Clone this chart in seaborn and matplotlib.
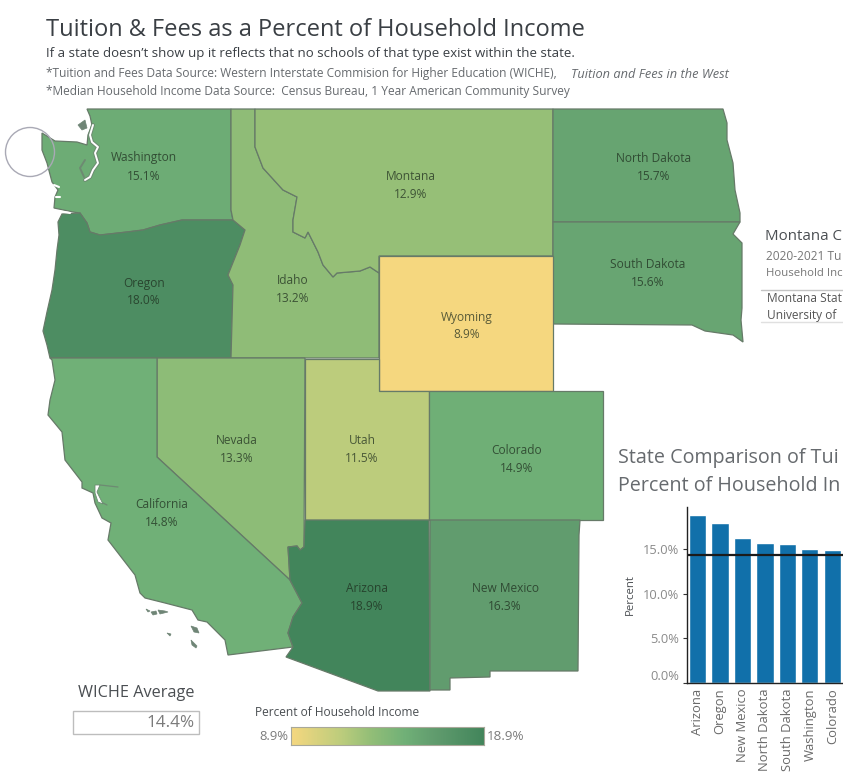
import numpy as np
import pandas as pd
import matplotlib
matplotlib.use("Agg")
import matplotlib.pyplot as plt
import seaborn as sns
from matplotlib.colors import LinearSegmentedColormap, Normalize
from matplotlib.patches import Circle, Polygon, Rectangle

# Map values
states = ["Washington", "Oregon", "Idaho", "Montana", "North Dakota", "South Dakota", "Wyoming",
          "Nevada", "Utah", "Colorado", "California", "Arizona", "New Mexico"]
pct = [15.1, 18.0, 13.2, 12.9, 15.7, 15.6, 8.9, 13.3, 11.5, 14.9, 14.8, 18.9, 16.3]
label_x = [144, 144, 293, 411, 654, 648, 467, 237, 362, 517, 162, 367, 505]
label_y = [158, 283, 280, 176, 158, 265, 317, 441, 441, 450, 504, 589, 589]

# Bar chart values (the rest runs off the picture)
bar_states = ["Arizona", "Oregon", "New Mexico", "North Dakota", "South Dakota", "Washington", "Colorado"]
bar_pct = [18.9, 18.0, 16.3, 15.7, 15.6, 15.1, 14.9]
bar_ticks = [0, 5, 10, 15]
wiche_avg = 14.4

# State outlines, traced in picture pixels
WASHINGTON = [(87, 109), (231, 109), (231, 210), (233, 220), (182, 220), (160, 225), (143, 230), (127, 232),
              (100, 235), (90, 232), (87, 223), (80, 213), (73, 212), (54, 208), (55, 197), (58, 190), (52, 182),
              (47, 163), (42, 150), (42, 133), (55, 141), (77, 142), (87, 145), (88, 135), (92, 125), (90, 116)]
OREGON = [(58, 222), (62, 214), (80, 213), (87, 223), (90, 232), (100, 235), (127, 232), (143, 230), (160, 225),
          (182, 220), (233, 220), (245, 230), (240, 245), (228, 275), (233, 285), (231, 358), (50, 358), (47, 345),
          (43, 331), (47, 312), (52, 290), (55, 270), (57, 250), (59, 235)]
IDAHO = [(231, 109), (255, 109), (255, 147), (263, 168), (283, 190), (297, 197), (293, 220), (293, 232), (305, 238),
         (308, 232), (318, 252), (323, 265), (333, 277), (337, 273), (360, 271), (370, 267), (379, 273), (379, 358),
         (231, 358), (233, 285), (228, 275), (240, 245), (245, 230), (233, 220), (231, 210)]
MONTANA = [(255, 109), (553, 109), (553, 256), (379, 256), (379, 273), (370, 267), (360, 271), (337, 273), (333, 277),
           (323, 265), (318, 252), (308, 232), (305, 238), (293, 232), (293, 220), (297, 197), (283, 190), (263, 168),
           (255, 147)]
NORTH_DAKOTA = [(553, 109), (723, 109), (727, 123), (727, 140), (733, 163), (735, 190), (740, 213), (740, 222), (553, 222)]
SOUTH_DAKOTA = [(553, 222), (740, 222), (733, 234), (742, 243), (742, 308), (741, 320), (743, 342), (733, 335),
                (705, 331), (692, 325), (553, 324)]
WYOMING = [(379, 256), (553, 256), (553, 391), (379, 391)]
NEVADA = [(157, 358), (305, 358), (304, 547), (300, 550), (297, 546), (288, 547), (290, 580), (157, 457)]
UTAH = [(305, 359), (379, 359), (379, 391), (429, 391), (429, 520), (305, 520)]
COLORADO = [(429, 391), (603, 391), (603, 520), (429, 520)]
CALIFORNIA = [(50, 358), (157, 358), (157, 457), (290, 580), (302, 603), (293, 617), (288, 633), (293, 647), (228, 655),
              (225, 640), (207, 622), (198, 620), (192, 610), (165, 603), (145, 598), (140, 593), (135, 575), (108, 540),
              (111, 523), (102, 518), (95, 503), (93, 493), (82, 488), (82, 482), (65, 460), (62, 432), (48, 415),
              (50, 400), (55, 380), (52, 360)]
ARIZONA = [(305, 520), (429, 520), (430, 691), (378, 691), (286, 657), (293, 647), (288, 633), (293, 617), (302, 603),
           (290, 580), (288, 547), (297, 546), (300, 550), (304, 547)]
NEW_MEXICO = [(430, 520), (580, 520), (579, 535), (578, 671), (490, 671), (490, 677), (450, 678), (450, 690), (430, 690)]
outlines = [WASHINGTON, OREGON, IDAHO, MONTANA, NORTH_DAKOTA, SOUTH_DAKOTA, WYOMING, NEVADA, UTAH, COLORADO,
            CALIFORNIA, ARIZONA, NEW_MEXICO]

# Water cut-outs and small islands
PUGET = [(93, 125), (90, 135), (92, 142), (98, 147), (95, 153), (98, 163), (93, 170), (90, 177), (85, 180)]
HOOD_CANAL = [(85, 160), (80, 168), (84, 177)]
COAST_INLETS = [[(54, 185), (59, 187)], [(56, 197), (60, 197)], [(57, 211), (70, 213)]]
SF_BAY = [(95, 485), (100, 485), (97, 492), (103, 504), (98, 502), (95, 493)]
SF_ARMS = [[(100, 485), (118, 487)], [(103, 503), (107, 505)]]
ISLANDS = [[(78, 125), (85, 120), (87, 128), (82, 130)],
           [(146, 609), (150, 611), (148, 612)],
           [(151, 612), (156, 611), (157, 614), (153, 615)],
           [(158, 610), (165, 611), (168, 612), (160, 614)],
           [(167, 633), (171, 634), (170, 636)],
           [(191, 626), (197, 628), (199, 633), (194, 632)],
           [(191, 640), (197, 646), (196, 648), (192, 645)]]

sns.set_theme(style="white")
plt.rcParams['font.family'] = ['Open Sans', 'DejaVu Sans']

W, H = 843, 782
fig = plt.figure(figsize=(W / 100, H / 100), dpi=100, facecolor="white")

def px_axes(x0, y0, x1, y1):
    # axes from picture pixels (y goes downward in the picture)
    return fig.add_axes([x0 / W, 1 - y1 / H, (x1 - x0) / W, (y1 - y0) / H])

def draw_line(points, color, lw):
    xs, ys = zip(*points)
    ax.plot(xs, ys, color=color, lw=lw, solid_capstyle="round")

cmap = LinearSegmentedColormap.from_list("tuition", [
    (0.0, "#f5d77f"), (0.26, "#bccc7c"), (0.41, "#93be77"), (0.59, "#70b077"), (0.74, "#619c6e"), (1.0, "#42855b")])
norm = Normalize(8.9, 18.9)

# Map axes in pixel coordinates
ax = px_axes(0, 0, W, H)
ax.set_xlim(0, W)
ax.set_ylim(H, 0)
ax.axis("off")

for name, val, shape, lx, ly in zip(states, pct, outlines, label_x, label_y):
    ax.add_patch(Polygon(shape, closed=True, facecolor=cmap(norm(val)), edgecolor="#667a68", linewidth=0.9))
    ax.text(lx, ly, name, ha="center", va="center", fontsize=8.6, color="#1c2a1c", alpha=0.72)
    ax.text(lx, ly + 18, f"{val:.1f}%", ha="center", va="center", fontsize=8.6, color="#1c2a1c", alpha=0.72)

draw_line(PUGET, "#6d8a72", 2.8)
draw_line(PUGET, "white", 1.4)
draw_line(HOOD_CANAL, "#6d8a72", 1.4)
for inlet in COAST_INLETS:
    draw_line(inlet, "white", 1.5)
ax.add_patch(Polygon(SF_BAY, closed=True, facecolor="white", edgecolor="#6d8a72", linewidth=0.6))
for arm in SF_ARMS:
    draw_line(arm, "#6d8a72", 0.9)
for isl in ISLANDS:
    ax.add_patch(Polygon(isl, closed=True, facecolor="#6f8576", edgecolor="#6f8576", linewidth=0.5))

ax.add_patch(Circle((30, 152), 24.5, facecolor="none", edgecolor="#a9a9b5", linewidth=1))

# Titles
ax.text(46, 29.5, "Tuition & Fees as a Percent of Household Income", fontsize=17.05, color="#3a3f44", va="center")
ax.text(46, 54, "If a state doesn\u2019t show up it reflects that no schools of that type exist within the state.",
        fontsize=9.55, color="#3a3f44", va="center", fontweight="medium")
ax.text(46, 74, "*Tuition and Fees Data Source: Western Interstate Commision for Higher Education (WICHE), ",
        fontsize=8.6, color="#666a6e", va="center")
ax.text(571, 74, "Tuition and Fees in the West", fontsize=9.2, color="#666a6e", va="center", style="italic")
ax.text(46, 92, "*Median Household Income Data Source:  Census Bureau, 1 Year American Community Survey",
        fontsize=8.55, color="#666a6e", va="center")

# WICHE average box
ax.text(136, 693, "WICHE Average", fontsize=11.7, color="#4a4e52", ha="center", va="center")
ax.add_patch(Rectangle((73, 711), 126, 23, facecolor="white", edgecolor="#bdbdbd", linewidth=1))
ax.text(195, 723, f"{wiche_avg:.1f}%", fontsize=12.3, color="#7b7b7b", ha="right", va="center")

# Colour legend
ax.text(255, 712, "Percent of Household Income", fontsize=8.55, color="#4a4e52", va="center")
ax.text(259, 736, "8.9%", fontsize=9.4, color="#7b7b7b", va="center")
ax.text(487, 736, "18.9%", fontsize=9.6, color="#7b7b7b", va="center")
ramp_ax = px_axes(291, 727, 484, 745)
sns.heatmap(np.linspace(8.9, 18.9, 256).reshape(1, -1), cmap=cmap, norm=norm, cbar=False,
            xticklabels=False, yticklabels=False, ax=ramp_ax)
for side in ramp_ax.spines.values():
    side.set_visible(True)
    side.set_color("#a8a89a")
    side.set_linewidth(0.8)

# Montana schools panel, only the part inside the picture
ax.text(765, 236.5, "Montana C", fontsize=10.8, color="#4a4e52", va="center")
ax.text(766, 256, "2020-2021 Tu", fontsize=8.6, color="#777777", va="center")
ax.text(766, 274, "Household Inc", fontsize=8.2, color="#777777", va="center")
ax.plot([761, W], [290, 290], color="#c4c4c4", lw=1)
ax.plot([761, W], [322, 322], color="#e0e0e0", lw=1)
ax.text(767, 299, "Montana Stat", fontsize=8.6, color="#555555", va="center")
ax.text(767, 315, "University of", fontsize=8.6, color="#555555", va="center")

# Bar chart panel
ax.text(618, 458, "State Comparison of Tui", fontsize=14.2, color="#666a6e", va="center")
ax.text(618, 486, "Percent of Household In", fontsize=14.2, color="#666a6e", va="center")

bar_ax = px_axes(686.5, 506.7, W, 683)
df = pd.DataFrame({"state": bar_states, "pct": bar_pct})
sns.barplot(data=df, x="state", y="pct", color="#1170aa", saturation=1, width=0.756, ax=bar_ax)
bar_ax.axhline(wiche_avg, color="#1b1b1b", lw=1.6)
bar_ax.set_xlim(-0.489, 6.467)
bar_ax.set_ylim(0, 19.8)
bar_ax.set_yticks(bar_ticks)
bar_ax.set_yticklabels([f"{t:.1f}%" for t in bar_ticks], fontsize=9.3, color="#8a8a8a")
bar_ax.get_yticklabels()[0].set_va("bottom")
bar_ax.tick_params(axis="y", length=3, width=0.8, color="#333333", pad=2, left=True)
bar_ax.tick_params(axis="x", length=0, pad=4)
plt.setp(bar_ax.get_xticklabels(), rotation=90, fontsize=9.4, color="#6a6a6a")
bar_ax.set_xlabel("")
bar_ax.set_ylabel("Percent", fontsize=8.2, color="#4a4e52", labelpad=5)
sns.despine(ax=bar_ax)
bar_ax.spines["left"].set_color("#222222")
bar_ax.spines["bottom"].set_color("#222222")
bar_ax.spines["left"].set_linewidth(1)
bar_ax.spines["bottom"].set_linewidth(1)

fig.savefig("out.png", dpi=100)
